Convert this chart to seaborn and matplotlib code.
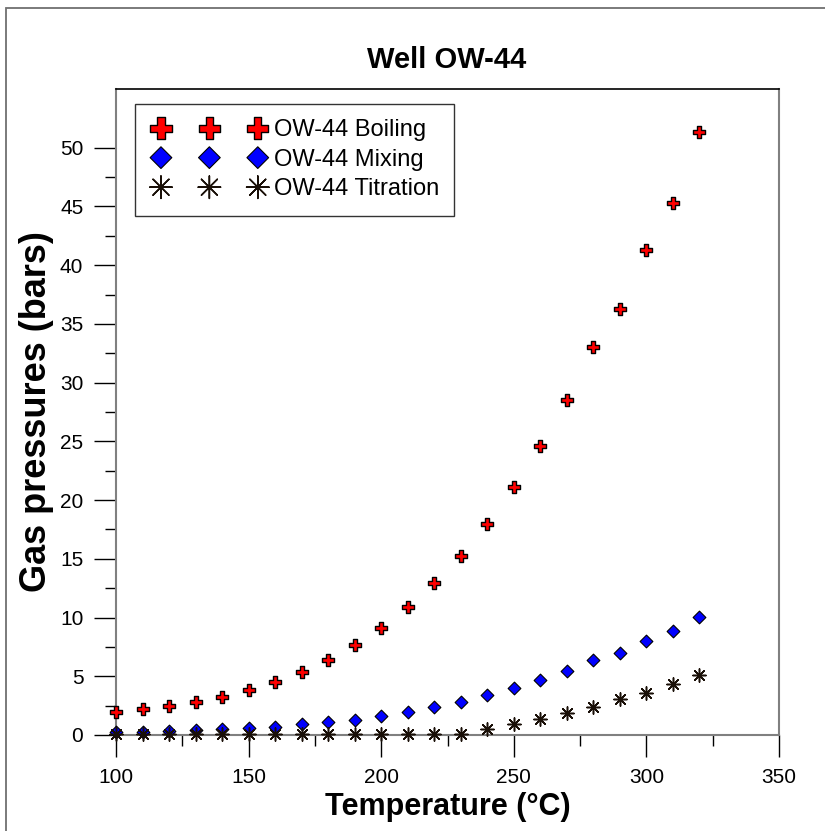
import matplotlib
matplotlib.use("Agg")
import matplotlib.pyplot as plt
import matplotlib.patches as mpatches
from matplotlib.ticker import MultipleLocator, FixedLocator
from matplotlib.collections import PathCollection
from matplotlib.legend_handler import HandlerPathCollection
import seaborn as sns
import pandas as pd

temperature = [100, 110, 120, 130, 140, 150, 160, 170, 180, 190, 200, 210,
               220, 230, 240, 250, 260, 270, 280, 290, 300, 310, 320]
boiling = [1.93, 2.19, 2.47, 2.80, 3.25, 3.81, 4.50, 5.35, 6.39, 7.67, 9.12, 10.87,
           12.96, 15.28, 17.99, 21.08, 24.61, 28.56, 33.06, 36.27, 41.29, 45.27, 51.30]
mixing = [0.22, 0.28, 0.34, 0.43, 0.51, 0.58, 0.71, 0.91, 1.08, 1.30, 1.65, 1.93,
          2.39, 2.81, 3.38, 4.00, 4.72, 5.48, 6.39, 7.02, 8.04, 8.84, 10.03]
titration = [0.10, 0.10, 0.10, 0.10, 0.10, 0.10, 0.10, 0.10, 0.10, 0.10, 0.10, 0.10,
             0.10, 0.10, 0.49, 0.91, 1.34, 1.85, 2.39, 3.04, 3.61, 4.38, 5.11]
labels = ["OW-44 Boiling", "OW-44 Mixing", "OW-44 Titration"]
y_major = [0, 5, 10, 15, 20, 25, 30, 35, 40, 45, 50]
y_minor = [2.5, 7.5, 12.5, 17.5, 22.5, 27.5, 32.5, 37.5, 42.5, 47.5]

sns.set_theme(style="white")
plt.rcParams["font.family"] = ["Liberation Sans", "DejaVu Sans"]
plt.rcParams["text.color"] = "black"
plt.rcParams["axes.labelcolor"] = "black"
plt.rcParams["xtick.color"] = "black"
plt.rcParams["ytick.color"] = "black"

df = pd.DataFrame({"T": temperature, "b": boiling, "m": mixing, "t": titration})

fig = plt.figure(figsize=(8.25, 8.31), dpi=100)
ax = fig.add_axes([116 / 825, 1 - 735 / 831, (779 - 116) / 825, (735 - 89) / 831])

# outer frame (right/bottom edges outside the image)
fig.add_artist(mpatches.Rectangle((6 / 825, -0.2), 1.3, 0.2 + (831 - 8) / 831,
                                  transform=fig.transFigure, fill=False,
                                  edgecolor="#707070", linewidth=1.3))

sns.scatterplot(data=df, x="T", y="b", ax=ax, marker="P", s=9.0 ** 2,
                color="#ff0000", edgecolor="black", linewidth=1.0,
                label=labels[0], clip_on=False, zorder=3)
sns.scatterplot(data=df, x="T", y="m", ax=ax, marker="D", s=6.5 ** 2,
                color="#0000ff", edgecolor="black", linewidth=0.8,
                label=labels[1], clip_on=False, zorder=3)
sns.scatterplot(data=df, x="T", y="t", ax=ax, marker=(8, 2, 0), s=9.5 ** 2,
                color="#1a1008", edgecolor="#1a1008", linewidth=1.1,
                label=labels[2], clip_on=False, zorder=4)

ax.set_xlim(100, 350)
ax.set_ylim(0, 55)
ax.xaxis.set_major_locator(MultipleLocator(50))
ax.xaxis.set_minor_locator(MultipleLocator(25))
ax.yaxis.set_major_locator(FixedLocator(y_major))
ax.yaxis.set_minor_locator(FixedLocator(y_minor))

ax.tick_params(which="major", direction="out", length=15.5, width=1.0,
               color="black", labelsize=15, pad=8, bottom=True, left=True,
               labelcolor="black")
ax.tick_params(which="minor", direction="out", length=7.8, width=1.0,
               color="black", bottom=True, left=True)

for side in ["left", "right", "bottom"]:
    ax.spines[side].set_color("#808080")
    ax.spines[side].set_linewidth(1.5)
ax.spines["top"].set_color("black")
ax.spines["top"].set_linewidth(1.2)

ax.set_xlabel("Temperature (°C)", fontsize=22, fontweight="bold", labelpad=4)
ax.set_ylabel("Gas pressures (bars)", fontsize=26, fontweight="bold", labelpad=4)
fig.text(447 / 825, 1 - 60 / 831, "Well OW-44", fontsize=21, fontweight="bold",
         ha="center", va="center")

leg = ax.legend(loc="upper left", bbox_to_anchor=((135 - 116) / 663, (735 - 104) / 646),
                scatterpoints=3, scatteryoffsets=[0.5], markerscale=1.7,
                fontsize=17, frameon=True, fancybox=False, shadow=False,
                borderpad=0.65, labelspacing=0.32, handlelength=5.0,
                handletextpad=0.22, borderaxespad=0,
                handler_map={PathCollection: HandlerPathCollection(marker_pad=0.45)})
leg.get_frame().set_edgecolor("black")
leg.get_frame().set_linewidth(1.0)

fig.savefig("out.png", dpi=100)
